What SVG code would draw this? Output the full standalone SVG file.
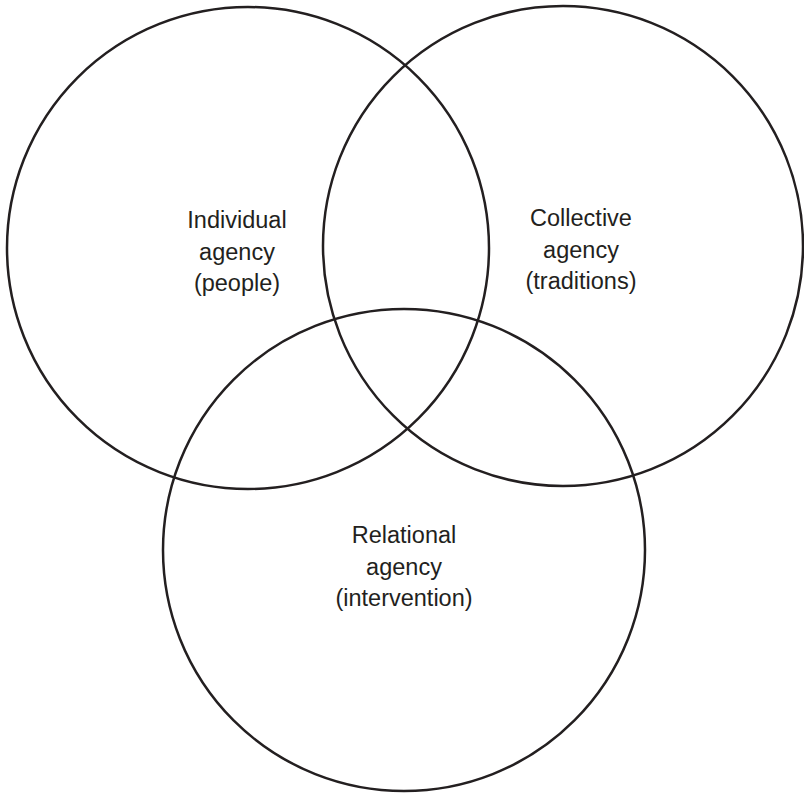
<svg xmlns="http://www.w3.org/2000/svg" width="804" height="793" viewBox="0 0 804 793">
<style>
.c{fill:none;stroke:#231f20;stroke-width:2.5}
.t{font-family:"Liberation Sans",Arial,sans-serif;font-size:23.5px;fill:#231f20;text-anchor:middle}
</style>
<rect width="804" height="793" fill="#fff"/>
<g id="individual">
<circle class="c" cx="248" cy="248" r="241"/>
<text class="t" x="237" y="228">Individual<tspan x="237" dy="31.5">agency</tspan><tspan x="237" dy="31.5">(people)</tspan></text>
</g>
<g id="collective">
<circle class="c" cx="563" cy="246" r="240"/>
<text class="t" x="581" y="226">Collective<tspan x="581" dy="31.5">agency</tspan><tspan x="581" dy="31.5">(traditions)</tspan></text>
</g>
<g id="relational">
<circle class="c" cx="404" cy="550" r="241"/>
<text class="t" x="404" y="543">Relational<tspan x="404" dy="31.5">agency</tspan><tspan x="404" dy="31.5">(intervention)</tspan></text>
</g>
<g id="connectors"/>
</svg>
